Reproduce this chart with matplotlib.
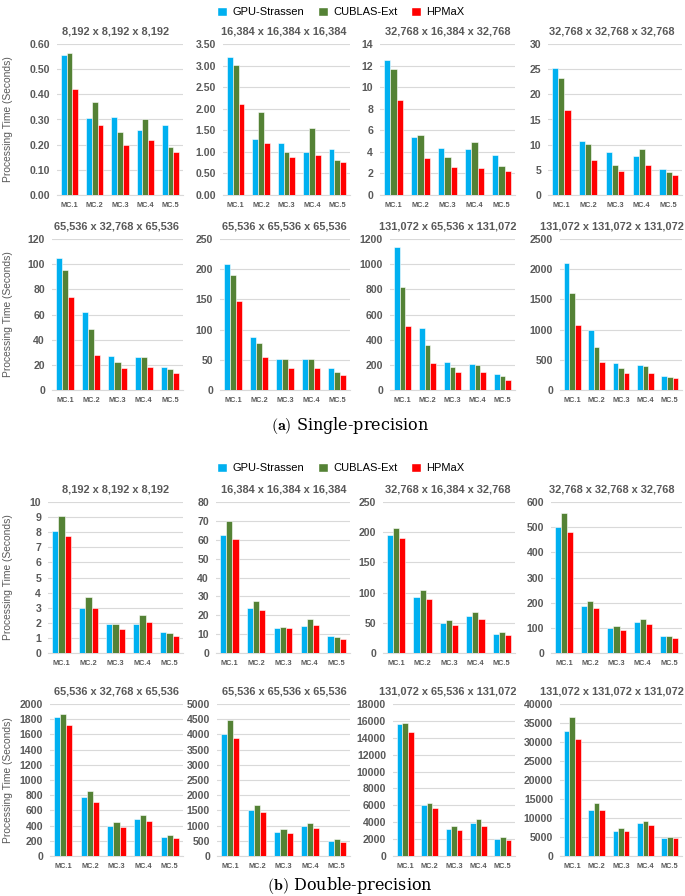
import matplotlib.pyplot as plt
from matplotlib.patches import Patch
from matplotlib.ticker import FormatStrFormatter
import numpy as np

plt.rcParams['font.family'] = ['Liberation Sans', 'DejaVu Sans']
plt.rcParams['mathtext.fontset'] = 'cm'

methods = ["GPU-Strassen", "CUBLAS-Ext", "HPMaX"]
colors = ["#00B0F0", "#548235", "#FF0000"]
mcs = ["MC.1", "MC.2", "MC.3", "MC.4", "MC.5"]

sizes = ["8,192 x 8,192 x 8,192", "16,384 x 16,384 x 16,384",
         "32,768 x 16,384 x 32,768", "32,768 x 32,768 x 32,768",
         "65,536 x 32,768 x 65,536", "65,536 x 65,536 x 65,536",
         "131,072 x 65,536 x 131,072", "131,072 x 131,072 x 131,072"]

# single precision, one row per matrix size
single_gpu = [
    [0.555, 0.305, 0.31, 0.26, 0.28],
    [3.2, 1.3, 1.2, 1.0, 1.06],
    [12.5, 5.4, 4.35, 4.25, 3.75],
    [25.3, 10.8, 8.6, 7.7, 5.2],
    [105, 62, 27, 26.5, 18.5],
    [209, 87, 52, 52, 36],
    [1135, 490, 220, 205, 130],
    [2100, 990, 455, 415, 235],
]
single_cublas = [
    [0.565, 0.37, 0.25, 0.30, 0.19],
    [3.02, 1.92, 1.0, 1.55, 0.8],
    [11.65, 5.55, 3.5, 4.95, 2.65],
    [23.3, 10.2, 5.9, 9.1, 4.5],
    [95.5, 48.5, 22.5, 26, 17],
    [191, 78, 51, 51, 29],
    [820, 360, 185, 200, 110],
    [1610, 720, 370, 395, 220],
]
single_hpmax = [
    [0.42, 0.28, 0.20, 0.22, 0.17],
    [2.12, 1.2, 0.88, 0.92, 0.76],
    [8.8, 3.45, 2.6, 2.5, 2.25],
    [16.9, 7.0, 4.8, 5.9, 3.9],
    [74, 27.5, 17.5, 18.5, 13.5],
    [147, 55, 36, 36, 25],
    [510, 215, 140, 145, 83],
    [1070, 465, 285, 285, 195],
]
single_ymax = [0.6, 3.5, 14, 30, 120, 250, 1200, 2500]
single_step = [0.1, 0.5, 2, 5, 20, 50, 200, 500]

# double precision
double_gpu = [
    [8.05, 3.0, 1.95, 1.95, 1.4],
    [62.5, 24, 13, 14.5, 9],
    [196, 93, 50, 61, 32],
    [500, 187, 100, 122, 66],
    [1830, 770, 400, 490, 250],
    [4000, 1500, 790, 990, 500],
    [15650, 6000, 3150, 3950, 2000],
    [33000, 12200, 6700, 8600, 4800],
]
double_cublas = [
    [9.05, 3.7, 1.95, 2.5, 1.3],
    [70, 27.5, 13.8, 18, 8.5],
    [207, 105, 54, 68, 34],
    [558, 208, 107, 135, 68],
    [1870, 850, 450, 545, 280],
    [4460, 1670, 880, 1080, 550],
    [15800, 6300, 3550, 4350, 2250],
    [36500, 14000, 7500, 9100, 5000],
]
double_hpmax = [
    [7.75, 3.0, 1.6, 2.05, 1.15],
    [60.5, 22.8, 13, 15, 7.5],
    [190, 89, 46, 57, 29],
    [482, 180, 90, 114, 58],
    [1720, 715, 385, 460, 235],
    [3870, 1440, 760, 910, 470],
    [14700, 5650, 3100, 3550, 1900],
    [30800, 12000, 6600, 8200, 4700],
]
double_ymax = [10, 80, 250, 600, 2000, 5000, 18000, 40000]
double_step = [1, 10, 50, 100, 200, 500, 2000, 5000]

W, H = 685, 896
fig = plt.figure(figsize=(W / 100, H / 100), dpi=100)
gray = "#595959"

# pixel boxes: (row top, row bottom) and column (left, right)
single_rows = [(44, 195), (239, 390)]
double_rows = [(502, 653), (704, 856)]
single_cols = [[(57, 183), (223, 350), (380, 515), (548, 682)],
               [(52, 183), (220, 350), (390, 515), (560, 682)]]
double_cols = [[(48, 183), (216, 350), (383, 515), (551, 682)],
               [(50, 183), (217, 350), (393, 515), (560, 682)]]
title_cx = [116, 284, 448, 612]


def draw_block(rows, cols, gpu, cublas, hpmax, ymax, step):
    x = np.arange(len(mcs))
    bw = 0.23
    for k in range(8):
        r, c = divmod(k, 4)
        top, bot = rows[r]
        left, right = cols[r][c]
        ax = fig.add_axes([left / W, 1 - bot / H, (right - left) / W, (bot - top) / H])
        for j, vals in enumerate([gpu[k], cublas[k], hpmax[k]]):
            ax.bar(x + (j - 1) * bw, vals, bw, color=colors[j],
                   edgecolor="white", linewidth=0.4, zorder=3)
        ax.set_xlim(-0.5, 4.5)
        ax.set_ylim(0, ymax[k])
        ax.set_yticks(np.arange(0, ymax[k] + step[k] / 2, step[k]))
        if ymax[k] < 5:
            ax.yaxis.set_major_formatter(FormatStrFormatter("%.2f"))
        else:
            ax.yaxis.set_major_formatter(FormatStrFormatter("%d"))
        ax.set_xticks(x)
        ax.set_xticklabels(mcs)
        ax.grid(axis="y", color="#D9D9D9", linewidth=0.8, zorder=0)
        for s in ["top", "right", "left"]:
            ax.spines[s].set_visible(False)
        ax.spines["bottom"].set_color("#D9D9D9")
        ax.tick_params(axis="both", length=0, colors=gray)
        ax.tick_params(axis="y", labelsize=7.6, pad=5)
        ax.tick_params(axis="x", labelsize=5.3, pad=5)
        for lab in ax.get_xticklabels() + ax.get_yticklabels():
            lab.set_fontweight("bold")
        ax.set_title(sizes[k], fontsize=7.9, fontweight="bold", color=gray, pad=7,
                     x=(title_cx[c] - left) / (right - left))
        if c == 0:
            ax.set_ylabel("Processing Time (Seconds)", fontsize=7.4, color=gray)
            ax.yaxis.set_label_coords((13 - left) / (right - left), 0.5)


draw_block(single_rows, single_cols, single_gpu, single_cublas, single_hpmax,
           single_ymax, single_step)
draw_block(double_rows, double_cols, double_gpu, double_cublas, double_hpmax,
           double_ymax, double_step)

handles = [Patch(facecolor=colors[i], edgecolor="white", label=methods[i]) for i in range(3)]
for ly in [12, 468]:
    fig.legend(handles=handles, loc="center", bbox_to_anchor=(341 / W, 1 - ly / H),
               ncol=3, frameon=False, fontsize=8, handlelength=0.9, handleheight=0.9,
               handletextpad=0.5, columnspacing=1.2, borderpad=0)

fig.text(350 / W, 1 - 425 / H, r"$\mathbf{(a)}$ Single-precision", ha="center", va="center",
         fontsize=11.5, family="DejaVu Serif")
fig.text(350 / W, 1 - 885 / H, r"$\mathbf{(b)}$ Double-precision", ha="center", va="center",
         fontsize=11.5, family="DejaVu Serif")

fig.savefig("out.png", dpi=100)
